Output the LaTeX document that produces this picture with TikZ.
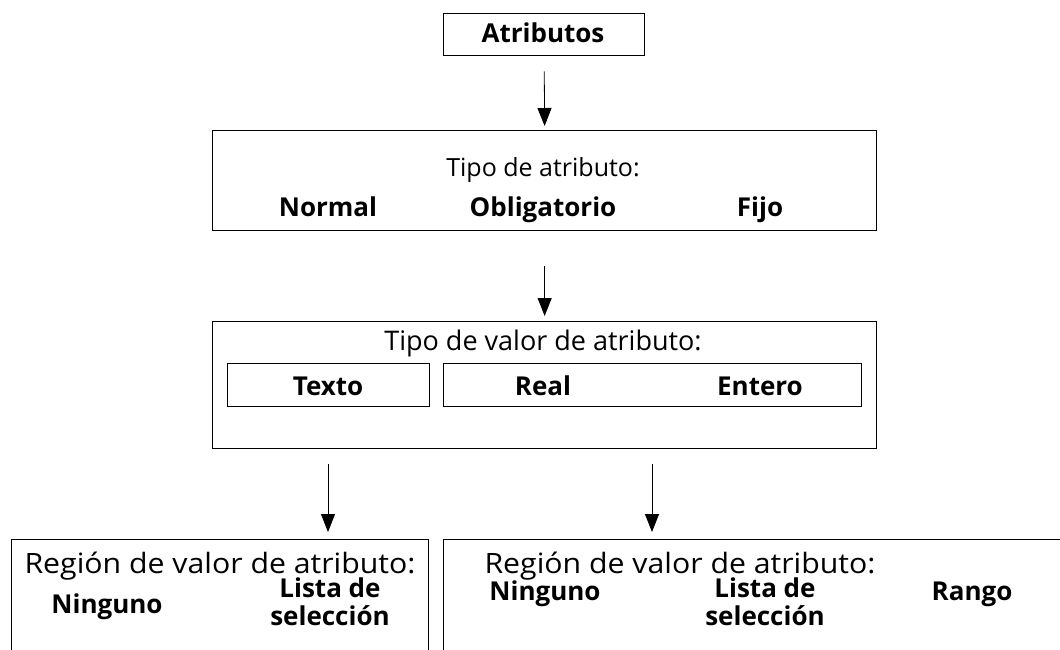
\documentclass[tikz,border=0pt]{standalone}
\usepackage{fontspec}
\setmainfont{Open Sans}
\usetikzlibrary{arrows.meta}
\begin{document}
\begin{tikzpicture}[x=1pt,y=-1pt,
  box/.style={draw,line width=1.3pt,inner sep=0pt,anchor=north west},
  lbl/.style={font=\fontsize{25}{28}\selectfont,inner sep=0pt,anchor=base},
  blbl/.style={font=\fontsize{26}{28}\selectfont\bfseries,inner sep=0pt,anchor=base,align=center},
  arr/.style={line width=0.8pt,-{Triangle[width=14pt,length=18pt]}}]
\clip (0,0) rectangle (1060,650);
\fill[white] (0,0) rectangle (1060,650);
% top box
\node[box,minimum width=201pt,minimum height=42pt] (top) at (443,13) {};
\node[blbl] (ttop) at (543,43) {Atributos};
% box 2
\node[box,minimum width=664pt,minimum height=100pt] (b2) at (212,130) {};
\node[lbl] (t2) at (543,176) {Tipo de atributo:};
\node[blbl] (n2a) at (328,216) {Normal};
\node[blbl] (n2b) at (543,216) {Obligatorio};
\node[blbl] (n2c) at (760,216) {Fijo};
% box 3
\node[box,minimum width=664pt,minimum height=127pt] (b3) at (212,321) {};
\node[lbl,font=\fontsize{27}{30}\selectfont] (t3) at (543,350) {Tipo de valor de atributo:};
\node[box,minimum width=202pt,minimum height=43pt] (i1) at (227,363) {};
\node[box,minimum width=418pt,minimum height=43pt] (i2) at (443,363) {};
\node[blbl] (n3a) at (328,395) {Texto};
\node[blbl] (n3b) at (543,395) {Real};
\node[blbl] (n3c) at (760,395) {Entero};
% bottom boxes
\node[box,minimum width=417pt,minimum height=200pt] (bl) at (11,539) {};
\node[box,minimum width=700pt,minimum height=200pt] (br) at (443,539) {};
\node[lbl,font=\fontsize{28}{30}\selectfont] (t4) at (220,573) {\scalebox{1.08}[1]{Región de valor de atributo:}};
\node[blbl] (n4a) at (107,613) {Ninguno};
\node[blbl,anchor=center] (n4b) at (330,602) {Lista de\\selección};
\node[lbl,font=\fontsize{28}{30}\selectfont] (t5) at (680,573) {\scalebox{1.08}[1]{Región de valor de atributo:}};
\node[blbl] (n5a) at (545,600) {Ninguno};
\node[blbl,anchor=center] (n5b) at (765,602) {Lista de\\selección};
\node[blbl] (n5c) at (972,600) {Rango};
% arrows
\draw[arr,shorten <=15pt,shorten >=4pt] (top.south) -- (b2.north);
\draw[arr,shorten <=35pt,shorten >=5pt] (b2.south) -- (b3.north);
\draw[arr,shorten <=15pt,shorten >=7pt] (b3.south -| n3a) -- (bl.north -| n3a);
\draw[arr,shorten <=15pt,shorten >=7pt] (b3.south -| 652,0) -- (br.north -| 652,0);
\end{tikzpicture}
\end{document}
